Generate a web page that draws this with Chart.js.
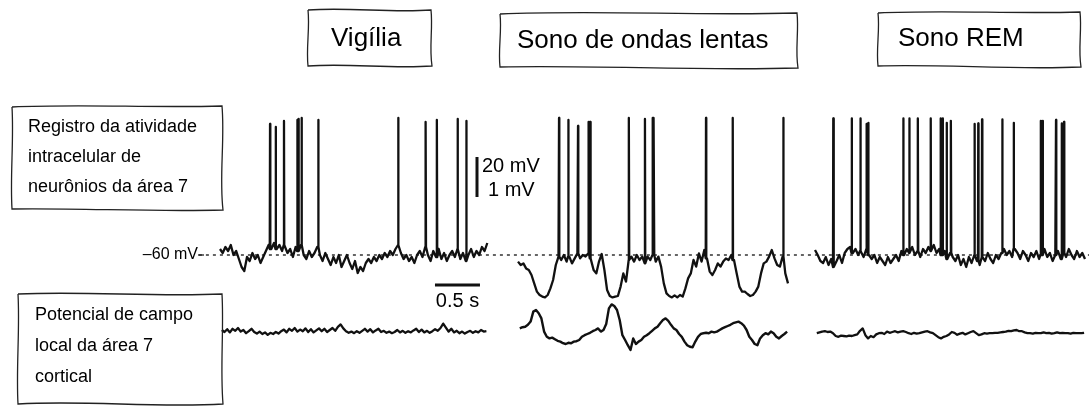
<!DOCTYPE html>
<html>
<head>
<meta charset="utf-8">
<script src="https://cdn.jsdelivr.net/npm/chart.js@4.4.1/dist/chart.umd.min.js"></script>
<style>
  html, body { margin: 0; padding: 0; background: #fff; }
  canvas { display: block; }
</style>
</head>
<body>
<canvas id="graficoSono" width="1089" height="407"></canvas>
<script>
// passo de amostragem dos traçados (s)
const dt = 0.03;

const estados = ["Vigília", "Sono de ondas lentas", "Sono REM"];

// potencial de membrana (mV), amostras a cada dt
const vigiliaVm = [-57, -59, -56, -58, -55, -60, -58, -62, -66, -68, -61, -63, -59, -62, -60, -64, -61, -58, -55, -57,
  -54, -57, -55, -58, -55, -59, -57, -61, -56, -58, -55, -60, -62, -58, -61, -59, -56, -60, -63, -59,
  -62, -65, -61, -64, -60, -66, -63, -60, -64, -67, -63, -69, -66, -68, -64, -62, -64, -61, -63, -60,
  -62, -59, -61, -58, -60, -57, -55, -59, -62, -60, -63, -61, -64, -60, -58, -61, -56, -60, -63, -58,
  -61, -57, -62, -59, -63, -60, -58, -61, -57, -62, -59, -63, -60, -57, -61, -58, -60, -56, -58, -54];
const ondasLentasVm = [-63.3, -65, -64.2, -66.7, -67.5, -70, -74.2, -78.3, -80, -80.8, -81.2, -80, -76.7, -72.5, -65, -60.8, -62.5, -60, -63.3, -60.8,
  -64.2, -61.7, -59.2, -61.7, -60, -60.8, -59.2, -61.7, -67.5, -69.2, -63.3, -59.5, -67.5, -77.5, -80.5, -81.2, -80.8, -80.5, -75.8, -69.2,
  -73.3, -62.5, -60.8, -63.3, -60, -62.5, -60.8, -64.2, -60.8, -62.5, -60, -63.3, -60.8, -65.8, -74.2, -79.2, -80.5, -81.2, -80.2, -81.2,
  -80, -80.8, -76.7, -71.7, -69.2, -62.5, -65.8, -59.2, -63.3, -57.5, -61.7, -68.3, -70, -67.5, -64.2, -65.8, -63.3, -61.7, -62.5, -60,
  -62.5, -69.2, -75.8, -78.3, -78.3, -79.5, -80.5, -80, -78.3, -75.8, -69.2, -64.2, -63.3, -60.8, -57.5, -61.7, -65, -65.8, -60.8, -69.2, -74.2];
const remVm = [-57.5, -60, -63, -64, -61, -65, -62, -66, -63, -60, -64, -59, -57, -56, -59, -57, -60, -58, -61, -57,
  -60, -62, -60, -64, -61, -63, -65, -61, -64, -62, -60, -63, -58, -60, -57, -59, -56, -60, -58, -61,
  -57, -59, -56, -58, -55, -59, -57, -60, -58, -62, -59, -61, -63, -60, -65, -62, -66, -61, -64, -60,
  -63, -65, -61, -63, -59, -62, -64, -60, -62, -59, -57, -60, -58, -61, -57, -59, -62, -58, -60, -63,
  -59, -61, -58, -62, -60, -57, -61, -59, -63, -60, -58, -62, -59, -61, -57, -60, -62, -58, -61, -59, -62];

// potenciais de ação: instante (s desde o início do trecho) e pico (mV)
const vigiliaPicosT = [0.556, 0.619, 0.711, 0.859, 0.874, 0.908, 1.092, 1.981, 2.286, 2.411, 2.641, 2.737];
const vigiliaPicosMv = [5.5, 4, 7, 7.5, 8, 8.5, 7.5, 8.5, 6.5, 7.5, 8, 7];
const ondasLentasPicosT = [0.456, 0.559, 0.667, 0.786, 0.8, 1.233, 1.411, 1.497, 1.511, 2.089, 2.386, 2.948];
const ondasLentasPicosMv = [8.5, 7.5, 4.5, 6.5, 6.5, 8.5, 8, 8.5, 8.5, 8.5, 8.5, 8.5];
const remPicosT = [0.203, 0.408, 0.503, 0.574, 0.592, 0.981, 1.048, 1.144, 1.286, 1.397, 1.419, 1.463,
  1.511, 1.774, 1.814, 1.856, 2.081, 2.208, 2.508, 2.53, 2.678, 2.741, 2.767];
const remPicosMv = [8.3, 8.3, 8.3, 5.5, 6.1, 8.3, 8.3, 8.3, 8.3, 8.3, 8.3, 6.1,
  7.1, 5.5, 5.8, 7.8, 7.8, 6.1, 7.1, 7.1, 7.5, 5.8, 6.6];

// potencial de campo local (mV)
const vigiliaLfp = [0.00, -0.05, 0.02, -0.06, 0.03, -0.02, 0.05, -0.04, 0.00, -0.08,
  -0.03, 0.03, -0.05, -0.09, -0.04, -0.10, -0.06, -0.12, -0.07, -0.10,
  -0.05, -0.09, -0.03, 0.01, -0.06, 0.03, -0.02, 0.05, -0.04, 0.01,
  -0.03, 0.04, -0.05, 0.02, -0.06, -0.01, 0.04, -0.03, 0.03, -0.05,
  0.00, 0.05, -0.02, 0.08, 0.14, 0.04, -0.03, -0.07, -0.04, -0.08,
  -0.03, -0.07, -0.02, 0.03, -0.04, 0.02, -0.06, -0.01, 0.03, -0.05,
  -0.02, -0.07, -0.04, -0.08, -0.05, 0.00, -0.06, -0.02, -0.07, -0.03,
  -0.06, -0.01, 0.03, -0.05, 0.01, -0.06, -0.02, -0.07, -0.03, 0.02,
  -0.02, 0.05, 0.16, 0.06, -0.04, 0.03, -0.06, -0.02, -0.08, -0.04,
  -0.09, -0.05, -0.02, -0.07, -0.03, -0.06, 0.00, -0.04, -0.03];
const ondasLentasLfp = [0.04, 0.07, 0.08, 0.13, 0.21, 0.46, 0.50, 0.42, 0.29, -0.04,
  -0.17, -0.21, -0.19, -0.23, -0.27, -0.29, -0.33, -0.35, -0.32, -0.33,
  -0.29, -0.28, -0.25, -0.17, -0.13, -0.10, -0.07, -0.03, 0.00, 0.04,
  -0.04, 0.00, 0.15, 0.54, 0.64, 0.60, 0.50, 0.25, -0.13, -0.25,
  -0.38, -0.50, -0.21, -0.35, -0.29, -0.25, -0.17, -0.13, -0.08, -0.02,
  0.04, 0.08, 0.17, 0.25, 0.29, 0.23, 0.13, 0.04, 0.00, -0.10,
  -0.17, -0.29, -0.38, -0.42, -0.43, -0.29, -0.17, -0.10, -0.08, -0.07,
  -0.08, -0.04, -0.06, -0.04, 0.00, 0.04, 0.07, 0.10, 0.13, 0.17,
  0.19, 0.21, 0.17, 0.11, 0.00, -0.17, -0.25, -0.35, -0.38, -0.21,
  -0.13, -0.08, -0.11, -0.04, -0.08, -0.17, -0.21, -0.15, -0.10, -0.04];
const remLfp = [-0.08, -0.06, -0.04, -0.03, -0.05, -0.04, -0.08, -0.15, -0.17, -0.14,
  -0.15, -0.16, -0.14, -0.15, -0.13, -0.11, -0.02, 0.04, -0.13, -0.21,
  -0.15, -0.18, -0.11, -0.08, -0.07, -0.10, -0.04, -0.07, -0.05, -0.03,
  -0.06, -0.04, -0.03, -0.05, -0.08, -0.10, -0.07, -0.09, -0.08, -0.06,
  -0.04, -0.03, -0.06, -0.08, -0.13, -0.18, -0.21, -0.17, -0.15, -0.11,
  -0.05, -0.07, -0.12, -0.09, -0.07, -0.11, -0.08, -0.05, -0.03, -0.08,
  -0.13, -0.11, -0.08, -0.09, -0.08, -0.08, -0.07, -0.07, -0.06, -0.05,
  -0.04, -0.02, -0.03, -0.01, 0.00, -0.03, -0.03, -0.06, -0.08, -0.08,
  -0.09, -0.07, -0.08, -0.08, -0.06, -0.08, -0.07, -0.09, -0.08, -0.06,
  -0.08, -0.07, -0.08, -0.08, -0.09, -0.07, -0.08, -0.08, -0.08, -0.07];

// barras de escala
const escalaTempo = 0.5;   // s
const escalaVm = 20;       // mV
const escalaLfp = 1;       // mV
const repouso = -60;       // mV

// disposição (s no eixo x)
const PX_S = 90;
const inicio = [220 / PX_S, 518 / PX_S, 815 / PX_S];

function tracoVm(amostras, picosT, picosMv, t0) {
  const pts = amostras.map((v, i) => ({ x: t0 + i * dt, y: v }));
  picosT.forEach((t, j) => {
    const k = Math.min(amostras.length - 1, Math.round(t / dt));
    const pe = amostras[k];
    pts.push({ x: t0 + t - 0.003, y: pe }, { x: t0 + t, y: picosMv[j] }, { x: t0 + t + 0.003, y: pe });
  });
  return pts.sort((a, b) => a.x - b.x);
}

function tracoLfp(amostras, t0) {
  return amostras.map((v, i) => ({ x: t0 + i * dt, y: v }));
}

const linha = (data, eixo, largura) => ({
  data: data, yAxisID: eixo, borderColor: "#111", borderWidth: largura,
  pointRadius: 0, tension: 0, fill: false, borderJoinStyle: "round"
});

// posição das barras de escala (s, mV)
const barraX = 5.3, barraY = -31;
const tempoX = 4.833, tempoY = -75;

const datasets = [
  linha(tracoVm(vigiliaVm, vigiliaPicosT, vigiliaPicosMv, inicio[0]), "y", 2.3),
  linha(tracoVm(ondasLentasVm, ondasLentasPicosT, ondasLentasPicosMv, inicio[1]), "y", 2.3),
  linha(tracoVm(remVm, remPicosT, remPicosMv, inicio[2]), "y", 2.3),
  linha(tracoLfp(vigiliaLfp, inicio[0] + 0.02), "y2", 2.3),
  linha(tracoLfp(ondasLentasLfp, inicio[1] + 0.02), "y2", 2.4),
  linha(tracoLfp(remLfp, inicio[2] + 0.02), "y2", 2.3),
  linha([{ x: barraX, y: barraY }, { x: barraX, y: barraY + escalaVm }], "y", 3),
  linha([{ x: tempoX, y: tempoY }, { x: tempoX + escalaTempo, y: tempoY }], "y", 3),
  Object.assign(linha([{ x: 2.21, y: repouso }, { x: 12.1, y: repouso }], "y", 1.3),
    { borderDash: [3, 4], borderColor: "#333", order: 5 })
];

function caixa(ctx, x0, y0, x1, y1, o) {
  const w = x1 - x0, h = y1 - y0;
  ctx.beginPath();
  ctx.moveTo(x0, y0 + o[4]);
  ctx.bezierCurveTo(x0 + w / 3, y0 - o[0], x0 + 2 * w / 3, y0 + o[0], x1, y0);
  ctx.bezierCurveTo(x1 + o[1], y0 + h / 3, x1 - o[1], y0 + 2 * h / 3, x1 + 1, y1);
  ctx.bezierCurveTo(x0 + 2 * w / 3, y1 + o[2], x0 + w / 3, y1 - o[2], x0, y1 - o[4]);
  ctx.bezierCurveTo(x0 - o[3], y0 + 2 * h / 3, x0 + o[3], y0 + h / 3, x0, y0 + o[4]);
  ctx.stroke();
}

const textos = {
  id: "textos",
  afterDraw(chart) {
    const ctx = chart.ctx;
    const sx = chart.scales.x, sy = chart.scales.y;
    ctx.save();
    ctx.strokeStyle = "#222";
    ctx.lineWidth = 1.3;
    ctx.fillStyle = "#000";
    ctx.textBaseline = "middle";

    // títulos dos estados
    caixa(ctx, 308, 10, 431, 66, [3, 2, 3, 2, 0]);
    caixa(ctx, 500, 13, 797, 68, [3, 2, 3, 2, 1]);
    caixa(ctx, 878, 12, 1080, 67, [2, 2, 3, 2, 1]);
    ctx.font = "26px 'Liberation Sans', Arial, sans-serif";
    ctx.textAlign = "left";
    ctx.fillText(estados[0], 331, 39);
    ctx.fillText(estados[1], 517, 41);
    ctx.fillText(estados[2], 898, 39);

    // rótulos à esquerda
    caixa(ctx, 12, 106, 222, 210, [2, 3, 2, 2, 1]);
    caixa(ctx, 18, 294, 222, 404, [3, 2, 4, 2, 0]);
    ctx.font = "18px 'Liberation Sans', Arial, sans-serif";
    ["Registro da atividade", "intracelular de", "neurônios da área 7"]
      .forEach((s, i) => ctx.fillText(s, 28, 127 + i * 30));
    ["Potencial de campo", "local da área 7", "cortical"]
      .forEach((s, i) => ctx.fillText(s, 35, 315 + i * 31));

    // rótulo do repouso
    ctx.font = "16px 'Liberation Sans', Arial, sans-serif";
    ctx.textAlign = "right";
    ctx.fillText("–60 mV", sx.getPixelForValue(2.2), sy.getPixelForValue(repouso));
    ctx.beginPath();
    ctx.moveTo(sx.getPixelForValue(2.2), sy.getPixelForValue(repouso));
    ctx.lineTo(sx.getPixelForValue(2.2) + 6, sy.getPixelForValue(repouso));
    ctx.stroke();

    // barras de escala
    ctx.font = "20px 'Liberation Sans', Arial, sans-serif";
    ctx.textAlign = "left";
    const bx = sx.getPixelForValue(barraX);
    ctx.fillText(escalaVm + " mV", bx + 5, sy.getPixelForValue(barraY + escalaVm) + 9);
    ctx.fillText(escalaLfp + " mV", bx + 11, sy.getPixelForValue(barraY) - 7);
    ctx.textAlign = "center";
    ctx.fillText(escalaTempo + " s", sx.getPixelForValue(tempoX + escalaTempo / 2), sy.getPixelForValue(tempoY) + 16);
    ctx.restore();
  }
};

new Chart(document.getElementById("graficoSono"), {
  type: "line",
  data: { datasets: datasets },
  options: {
    responsive: false,
    animation: false,
    devicePixelRatio: 1,
    layout: { padding: 0 },
    plugins: { legend: { display: false }, tooltip: { enabled: false } },
    scales: {
      x: { type: "linear", min: 0, max: 1089 / PX_S, display: false },
      y: { min: -136, max: 67.5, display: false },
      y2: { min: -1.925, max: 8.25, display: false }
    }
  },
  plugins: [textos]
});
</script>
</body>
</html>
